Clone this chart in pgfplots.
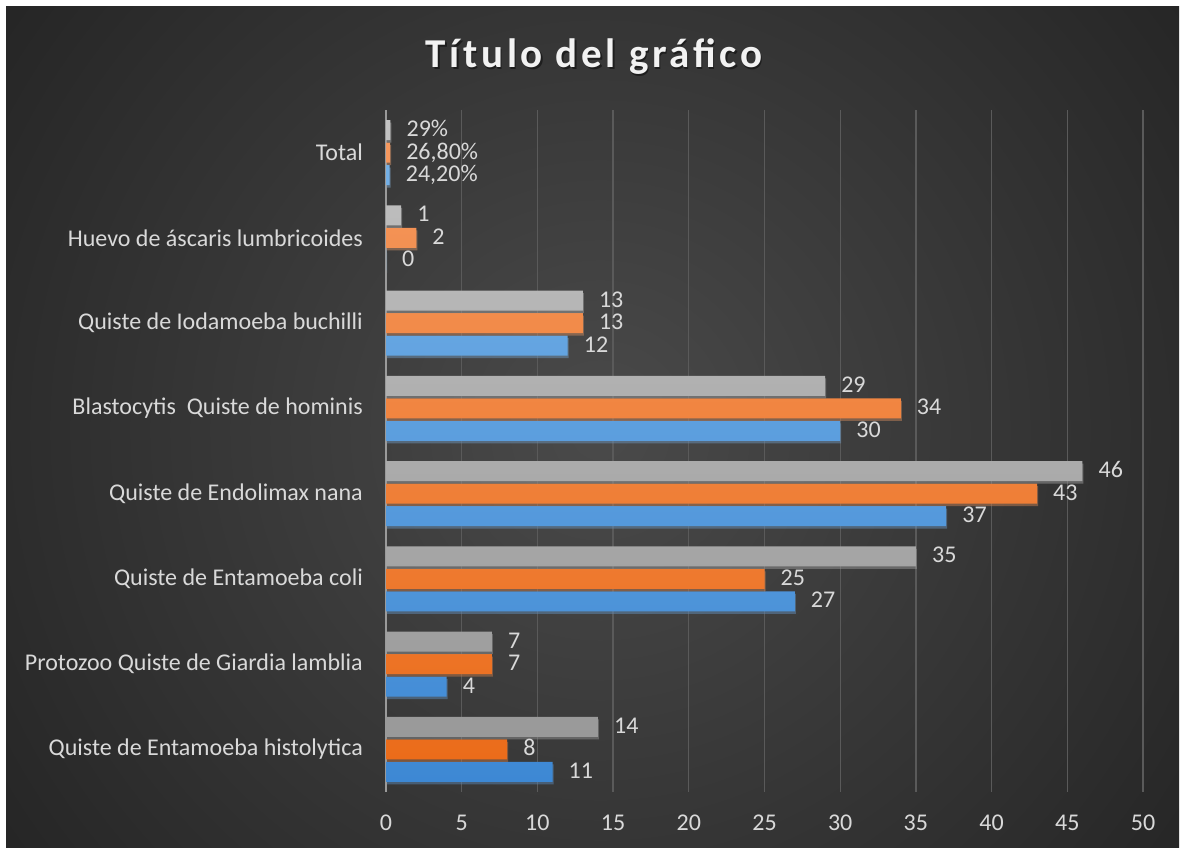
\documentclass[border=0pt]{standalone}
\usepackage{pgfplots}
\pgfplotsset{compat=1.18}
\usepackage{pgfplotstable}
\usepackage{fontspec}
\setmainfont{Carlito}
\newfontfamily\titlefont[LetterSpace=9]{Carlito}
\usetikzlibrary{shadows}
\definecolor{txt}{HTML}{D9D9D9}
\definecolor{gridc}{HTML}{5A5A5A}
\definecolor{axisc}{HTML}{9A9A9A}
\definecolor{bgin}{HTML}{4A4A4A}
\definecolor{bgout}{HTML}{242424}
\definecolor{blueT}{HTML}{74B0E6}
\definecolor{blueB}{HTML}{3D88D4}
\definecolor{orT}{HTML}{F5985E}
\definecolor{orB}{HTML}{EB6C1A}
\definecolor{grT}{HTML}{C2C2C2}
\definecolor{grB}{HTML}{999999}

\pgfplotstableread{
pos val lab
0 11 11
1 4 4
2 27 27
3 37 37
4 30 30
5 12 12
6 0 0
7 0.242 {24,20\%}
}\tblue
\pgfplotstableread{
pos val lab
0 8 8
1 7 7
2 25 25
3 43 43
4 34 34
5 13 13
6 2 2
7 0.268 {26,80\%}
}\torange
\pgfplotstableread{
pos val lab
0 14 14
1 7 7
2 35 35
3 46 46
4 29 29
5 13 13
6 1 1
7 0.29 {29\%}
}\tgray

\begin{document}
\begin{tikzpicture}
\useasboundingbox (0,0) rectangle (1182pt,850pt);
\fill[white] (0,0) rectangle (1182pt,850pt);
\fill[bgout] (6pt,2pt) rectangle (1179pt,843pt);
\begin{scope}
\clip (6pt,2pt) rectangle (1179pt,843pt);
\shade[inner color=bgin, outer color=bgout] (600pt,420pt) circle (760pt);
\end{scope}
\node[anchor=base, text=black, opacity=0.45] at (595.5pt,780.5pt) {\titlefont\bfseries\fontsize{41}{48}\selectfont Título del gráfico};
\node[anchor=base, text=white!95!black] at (594pt,782pt) {\titlefont\bfseries\fontsize{41}{48}\selectfont Título del gráfico};
\begin{axis}[
  at={(386pt,58pt)}, anchor=south west,
  scale only axis, width=757pt, height=682pt,
  xbar, bar width=20pt,
  xmin=0, xmax=50, ymin=-0.5, ymax=7.5,
  xtick={0,5,...,50}, ytick={0,...,7},
  yticklabels={Quiste de Entamoeba histolytica, Protozoo Quiste de Giardia lamblia, Quiste de Entamoeba coli, Quiste de Endolimax nana, {Blastocytis\ \ Quiste de hominis~}, Quiste de Iodamoeba buchilli, Huevo de áscaris lumbricoides, {Total~}},
  /pgf/number format/assume math mode=true,
  axis line style={draw=none},
  major tick length=0pt,
  xmajorgrids, grid style={gridc, line width=1.3pt},
  extra x ticks={0}, extra x tick labels={},
  extra x tick style={grid style={axisc, line width=2pt}},
  tick label style={font=\fontsize{24}{29}\selectfont, text=txt},
  xticklabel style={anchor=center, yshift=-31pt},
  yticklabel style={anchor=east, inner sep=0pt, xshift=-23pt},
  nodes near coords, point meta=explicit symbolic,
  nodes near coords style={anchor=west, inner sep=0pt, xshift=16pt, text height=15.5pt, text depth=2.5pt, font=\fontsize{24}{29}\selectfont, text=txt},
  clip=false,
]
\addplot[draw=none, top color=blueT, bottom color=blueB, bar shift=-22.5pt, drop shadow={opacity=0.3, shadow xshift=1pt, shadow yshift=-2.5pt}] table[x=val, y=pos, meta=lab] {\tblue};
\addplot[draw=none, top color=orT, bottom color=orB, bar shift=0pt, drop shadow={opacity=0.3, shadow xshift=1pt, shadow yshift=-2.5pt}] table[x=val, y=pos, meta=lab] {\torange};
\addplot[draw=none, top color=grT, bottom color=grB, bar shift=22.5pt, drop shadow={opacity=0.3, shadow xshift=1pt, shadow yshift=-2.5pt}] table[x=val, y=pos, meta=lab] {\tgray};
\end{axis}
\end{tikzpicture}
\end{document}
